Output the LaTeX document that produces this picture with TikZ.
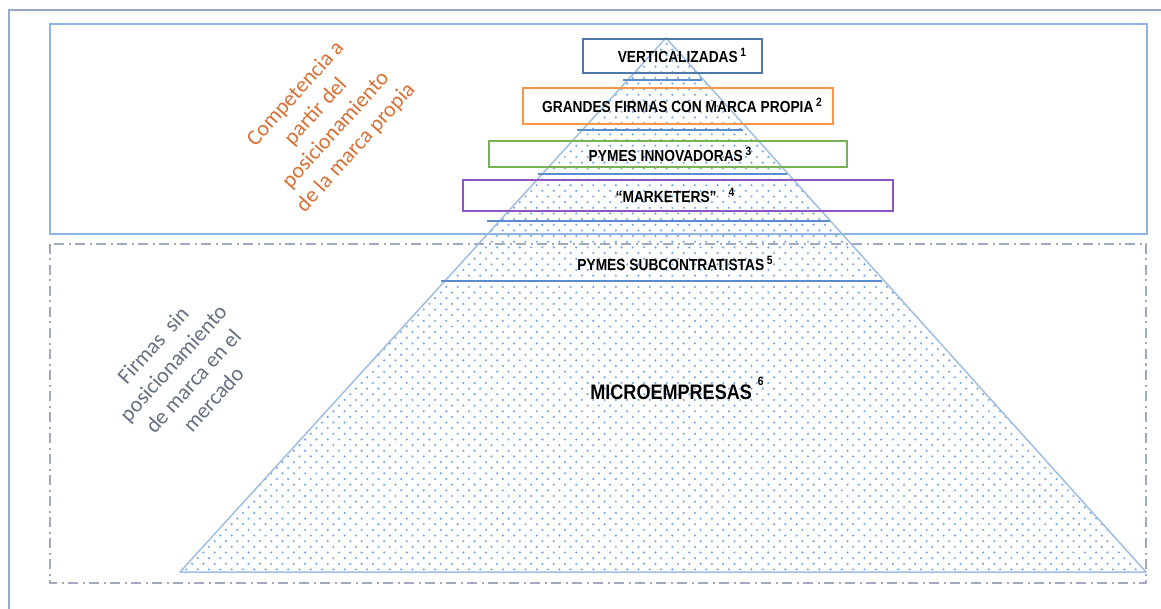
\documentclass[tikz,border=0pt]{standalone}
\usepackage{fontspec}
\setmainfont{Carlito}
\newfontfamily\nb[FakeStretch=0.86]{Liberation Sans}
\usetikzlibrary{patterns.meta}
\definecolor{frameC}{RGB}{149,170,200}
\definecolor{topC}{RGB}{141,180,226}
\definecolor{dashC}{RGB}{160,170,190}
\definecolor{pyrC}{RGB}{160,190,225}
\definecolor{dotC}{RGB}{115,168,230}
\definecolor{layC}{RGB}{91,140,205}
\definecolor{c1}{RGB}{79,119,170}
\definecolor{c2}{RGB}{247,150,70}
\definecolor{c3}{RGB}{119,178,84}
\definecolor{c4}{RGB}{142,84,196}
\definecolor{orangeT}{RGB}{217,112,50}
\definecolor{grayT}{RGB}{100,113,130}
\pgfdeclarepattern{name=pyrdots, type=uncolored,
  bottom left={\pgfpoint{-1.5pt}{-1.5pt}}, top right={\pgfpoint{12.8pt}{12.8pt}},
  tile size={\pgfpoint{11.3pt}{11.3pt}},
  code={\pgfpathcircle{\pgfpoint{0pt}{0pt}}{1.2pt}
        \pgfpathcircle{\pgfpoint{5.65pt}{5.65pt}}{1.2pt}\pgfusepath{fill}}}
\tikzset{
  layerbox/.style={draw=#1, line width=1.3pt, inner sep=0pt},
  layline/.style={draw=layC, line width=1.1pt},
  lab/.style={font=\nb\bfseries\fontsize{16}{16}\selectfont, anchor=base, inner sep=0pt},
  rot/.style={rotate=48, align=center, font=\fontsize{22}{27}\selectfont, inner sep=0pt}
}
\newcommand{\supn}[2][6pt]{\raisebox{#1}{\fontsize{12}{12}\selectfont #2}}
\begin{document}
\begin{tikzpicture}[x=1pt,y=-1pt]
\useasboundingbox (0,0) rectangle (1161,609);
% outer frame
\draw[frameC, line width=1.5pt] (9,615) -- (9,10) -- (1170,10);
% top region
\draw[topC, line width=1.5pt] (50,24) rectangle (1147,234);
% bottom region
\draw[dashC, line width=1.5pt, dash pattern=on 10pt off 4.5pt on 2pt off 4.5pt] (50,244) rectangle (1146,583);
% pyramid
\coordinate (apex) at (666,38);
\coordinate (bl) at (180,572);
\coordinate (br) at (1146,572);
\fill[pattern=pyrdots, pattern color=dotC] (apex) -- (bl) -- (br) -- cycle;
\draw[pyrC, line width=1.5pt, line join=round] (apex) -- (bl) -- (br) -- cycle;
% layer lines
\coordinate (l1a) at (623,80);  \coordinate (l1b) at (702,80);
\coordinate (l2a) at (577,130); \coordinate (l2b) at (743,130);
\coordinate (l3a) at (538,174); \coordinate (l3b) at (787,174);
\coordinate (l4a) at (487,221); \coordinate (l4b) at (830,221);
\coordinate (l5a) at (441,281); \coordinate (l5b) at (882,281);
\draw[layline] (l1a) -- (l1b);
\draw[layline] (l2a) -- (l2b);
\draw[layline] (l3a) -- (l3b);
\draw[layline] (l4a) -- (l4b);
\draw[layline] (l5a) -- (l5b);
% boxes
\node[layerbox=c1, minimum width=179pt, minimum height=34pt] (b1) at (672.5,56) {};
\node[layerbox=c2, minimum width=310pt, minimum height=36pt] (b2) at (678,106) {};
\node[layerbox=c3, minimum width=358pt, minimum height=26pt] (b3) at (668,154) {};
\node[layerbox=c4, minimum width=430pt, minimum height=31pt] (b4) at (678,195.5) {};
% labels
\node[lab] (t1) at (682,63) {VERTICALIZADAS\,\supn{1}};
\node[lab] (t2) at (682,113) {GRANDES FIRMAS CON MARCA PROPIA\,\supn{2}};
\node[lab] (t3) at (670,162) {PYMES INNOVADORAS\,\supn{3}};
\node[lab] (t4) at (675,203) {“MARKETERS”\hspace{12pt}\supn{4}};
\node[lab] (t5) at (675,271) {PYMES SUBCONTRATISTAS\,\supn{5}};
\node[lab, font=\nb\bfseries\fontsize{21}{21}\selectfont] (t6) at (677,399) {MICROEMPRESAS\hspace{6pt}\supn[14pt]{6}};
% rotated side texts
\node[rot, text=orangeT] (side1) at (326,121) {Competencia a\\partir del\\posicionamiento\\de la marca propia};
\node[rot, text=grayT] (side2) at (183,372) {Firmas\ \ sin\\posicionamiento\\de marca en el\\mercado};
\end{tikzpicture}
\end{document}
